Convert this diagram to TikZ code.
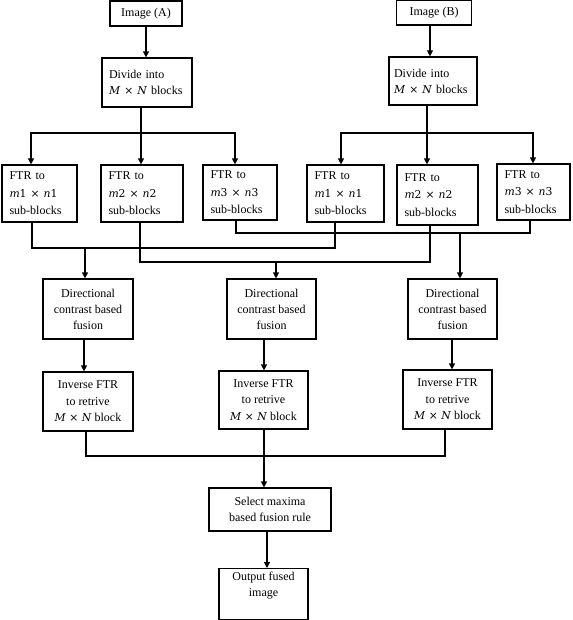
\documentclass[tikz,border=0pt]{standalone}
\usepackage{fontspec}
\setmainfont{Liberation Serif}
\newfontfamily\cmathfont{DejaVu Serif}[Scale=0.9]
\newcommand\mxn[4]{{\cmathfont\textit{#1}#2 × \textit{#3}#4}}
\usetikzlibrary{arrows.meta}
\tikzset{
  ln/.style={line width=1.2pt},
  arr/.style={line width=1.2pt,-{Triangle[length=6pt,width=6pt]}},
  cbox/.style={draw,line width=1.2pt,align=center,inner sep=2pt,
     font=\fontsize{12}{16}\selectfont},
  lbox/.style={draw,line width=1.2pt,align=left,inner xsep=8pt,inner ysep=2pt,
     font=\fontsize{12}{16}\selectfont},
  fbox/.style={draw,line width=1.2pt,align=left,inner xsep=7.5pt,inner ysep=2pt,
     font=\fontsize{12}{17.5}\selectfont},
}
\begin{document}
\begin{tikzpicture}[x=1pt,y=-1pt]
\useasboundingbox (0,0) rectangle (572,620);
% top
\node[cbox,minimum width=72,minimum height=25] (imgA) at (146,13.5) {Image (A)};
\node[lbox,text width=76,inner xsep=7pt,minimum height=49] (divA) at (147,82.5) {Divide into\\\mxn{M}{}{N}{} blocks};
\node[cbox,minimum width=75,minimum height=25] (imgB) at (434,12.5) {Image (B)};
\node[lbox,text width=78,inner xsep=5pt,minimum height=48] (divB) at (433,81) {Divide into\\\mxn{M}{}{N}{} blocks};
% FTR boxes
\node[fbox,text width=60,minimum height=57] (f1) at (39.5,193.5) {FTR to\\\mxn{m}{1}{n}{1}\\sub-blocks};
\node[fbox,text width=67,minimum height=57] (f2) at (142,193.5) {FTR to\\\mxn{m}{2}{n}{2}\\sub-blocks};
\node[fbox,text width=59,minimum height=55] (f3) at (240,192.5) {FTR to\\\mxn{m}{3}{n}{3}\\sub-blocks};
\node[fbox,text width=62,minimum height=57] (f4) at (345.5,193.5) {FTR to\\\mxn{m}{1}{n}{1}\\sub-blocks};
\node[fbox,text width=66,minimum height=60] (f5) at (437.5,195) {FTR to\\\mxn{m}{2}{n}{2}\\sub-blocks};
\node[fbox,text width=58,minimum height=56] (f6) at (533.5,192) {FTR to\\\mxn{m}{3}{n}{3}\\sub-blocks};
% directional
\node[cbox,minimum width=90,minimum height=60] (d1) at (88,309) {Directional\\contrast based\\fusion};
\node[cbox,minimum width=89,minimum height=60] (d2) at (271.5,309) {Directional\\contrast based\\fusion};
\node[cbox,minimum width=89,minimum height=60] (d3) at (452.5,309) {Directional\\contrast based\\fusion};
% inverse
\node[cbox,minimum width=90,minimum height=59,font=\fontsize{12}{16.5}\selectfont] (i1) at (88,401.5) {Inverse FTR\\to retrive\\\mxn{M}{}{N}{} block};
\node[cbox,minimum width=89,minimum height=58,font=\fontsize{12}{16.5}\selectfont] (i2) at (263.5,400) {Inverse FTR\\to retrive\\\mxn{M}{}{N}{} block};
\node[cbox,minimum width=89,minimum height=59,font=\fontsize{12}{16.5}\selectfont] (i3) at (447.5,399.5) {Inverse FTR\\to retrive\\\mxn{M}{}{N}{} block};
% bottom
\node[cbox,minimum width=122,minimum height=43] (sel) at (270,509.5) {Select maxima\\based fusion rule};
\node[cbox,minimum width=89,minimum height=51,anchor=north] (out) at (263.5,568) {Output fused\\image\\[4pt]};
% coordinates
\coordinate (xA) at (146,0);
\coordinate (xB) at (430,0);
\coordinate (cA) at (141,133);
\coordinate (cB) at (427,133);
\coordinate (a1) at (31,0);
\coordinate (a3) at (235,0);
\coordinate (a4) at (341,0);
\coordinate (a6) at (533,0);
\coordinate (L1a) at (32,248);
\coordinate (L1b) at (335,248);
\coordinate (L1m) at (85,248);
\coordinate (L2a) at (140,262);
\coordinate (L2b) at (430,262);
\coordinate (L2m) at (276,262);
\coordinate (L3a) at (236,233);
\coordinate (L3b) at (530,233);
\coordinate (L3m) at (460,233);
\coordinate (v1) at (84,0);
\coordinate (v2) at (264,0);
\coordinate (v3) at (452,0);
\coordinate (J1) at (86,456);
\coordinate (J2) at (264,456);
\coordinate (J3) at (445,456);
\coordinate (xo) at (267,0);
% connectors top
\draw[arr] (imgA.south -| xA) -- (divA.north -| xA);
\draw[arr] (imgB.south -| xB) -- (divB.north -| xB);
\draw[ln] (divA.south -| cA) -- (cA);
\draw[arr] (cA) -| (f1.north -| a1);
\draw[arr] (cA) -- (f2.north -| cA);
\draw[arr] (cA) -| (f3.north -| a3);
\draw[ln] (divB.south -| cB) -- (cB);
\draw[arr] (cB) -| (f4.north -| a4);
\draw[arr] (cB) -- (f5.north -| cB);
\draw[arr] (cB) -| (f6.north -| a6);
% FTR to directional
\draw[ln] (f1.south -| L1a) -- (L1a) -- (L1b) -- (f4.south -| L1b);
\draw[arr] (L1m) -- (d1.north -| L1m);
\draw[ln] (f2.south -| L2a) -- (L2a) -- (L2b) -- (f5.south -| L2b);
\draw[arr] (L2m) -- (d2.north -| L2m);
\draw[ln] (f3.south -| L3a) -- (L3a) -- (L3b) -- (f6.south -| L3b);
\draw[arr] (L3m) -- (d3.north -| L3m);
% directional to inverse
\draw[arr] (d1.south -| v1) -- (i1.north -| v1);
\draw[arr] (d2.south -| v2) -- (i2.north -| v2);
\draw[arr] (d3.south -| v3) -- (i3.north -| v3);
% inverse to select
\draw[ln] (i1.south -| J1) -- (J1) -- (J3) -- (i3.south -| J3);
\draw[arr] (i2.south -| J2) -- (sel.north -| J2);
\draw[arr] (sel.south -| xo) -- (out.north -| xo);
\end{tikzpicture}
\end{document}
